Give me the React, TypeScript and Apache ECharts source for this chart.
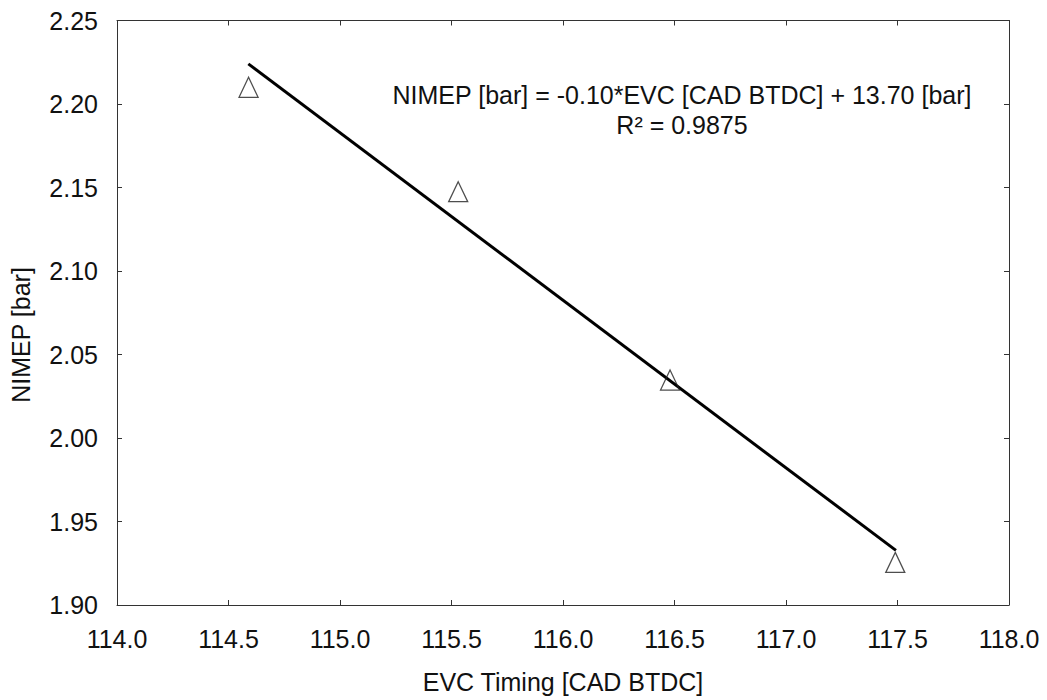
import React, { useEffect, useRef } from "react";
import * as echarts from "echarts";

// Measured NIMEP against exhaust valve closing timing
const evcTiming = [114.59, 115.53, 116.48, 117.49];
const nimep = [2.21, 2.1475, 2.0347, 1.9255];

// Linear trend line end points
const fitTiming = [114.589, 117.493];
const fitNimep = [2.224, 1.9327];

const equationText = "NIMEP [bar] = -0.10*EVC [CAD BTDC] + 13.70 [bar]";
const r2Text = "R² = 0.9875";

const xAxisTitle = "EVC Timing [CAD BTDC]";
const yAxisTitle = "NIMEP [bar]";

const FONT = '"Liberation Sans", Arial, Helvetica, sans-serif';

export default function App() {
  const ref = useRef<HTMLDivElement>(null);

  useEffect(() => {
    if (!ref.current) return;
    const chart = echarts.init(ref.current, null, { renderer: "svg" });

    const frameLine = { show: true, onZero: false, lineStyle: { color: "#333", width: 1 } };
    const tick = { show: true, inside: true, length: 5, lineStyle: { color: "#333", width: 1 } };

    const option = {
      animation: false,
      backgroundColor: "#ffffff",
      textStyle: { fontFamily: FONT },
      grid: { left: 117, right: 38, top: 20.5, bottom: 95, containLabel: false },
      xAxis: [
        {
          type: "value",
          position: "bottom",
          min: 114,
          max: 118,
          interval: 0.5,
          axisLine: frameLine,
          axisTick: tick,
          splitLine: { show: false },
          axisLabel: {
            formatter: (v: number) => v.toFixed(1),
            fontSize: 25,
            color: "#111",
            fontFamily: FONT,
            margin: 21,
          },
          name: xAxisTitle,
          nameLocation: "middle",
          nameGap: 64,
          nameTextStyle: { fontSize: 25, color: "#111", fontFamily: FONT },
        },
        {
          type: "value",
          position: "top",
          min: 114,
          max: 118,
          interval: 0.5,
          axisLine: frameLine,
          axisTick: tick,
          axisLabel: { show: false },
          splitLine: { show: false },
        },
      ],
      yAxis: [
        {
          type: "value",
          position: "left",
          min: 1.9,
          max: 2.25,
          interval: 0.05,
          axisLine: frameLine,
          axisTick: tick,
          splitLine: { show: false },
          axisLabel: {
            formatter: (v: number) => v.toFixed(2),
            fontSize: 25,
            color: "#111",
            fontFamily: FONT,
            margin: 19,
          },
        },
        {
          type: "value",
          position: "right",
          min: 1.9,
          max: 2.25,
          interval: 0.05,
          axisLine: frameLine,
          axisTick: tick,
          axisLabel: { show: false },
          splitLine: { show: false },
        },
      ],
      series: [
        {
          type: "line",
          xAxisIndex: 0,
          yAxisIndex: 0,
          data: fitTiming.map((x, i) => [x, fitNimep[i]]),
          showSymbol: false,
          symbol: "none",
          lineStyle: { color: "#000", width: 3 },
          z: 2,
        },
        {
          type: "scatter",
          xAxisIndex: 0,
          yAxisIndex: 0,
          data: evcTiming.map((x, i) => [x, nimep[i]]),
          symbol: "triangle",
          symbolSize: [19, 20],
          itemStyle: { color: "rgba(255,255,255,0)", borderColor: "#222", borderWidth: 1.3 },
          z: 3,
        },
      ],
      graphic: [
        {
          // vertical axis title
          type: "text",
          x: 21,
          y: 335,
          rotation: Math.PI / 2,
          style: {
            text: yAxisTitle,
            fontSize: 25,
            fontFamily: FONT,
            fill: "#111",
            align: "center",
            verticalAlign: "middle",
          },
        },
        {
          type: "text",
          x: 682,
          y: 95,
          style: {
            text: equationText,
            fontSize: 25,
            fontFamily: FONT,
            fill: "#111",
            align: "center",
            verticalAlign: "middle",
          },
        },
        {
          type: "text",
          x: 682,
          y: 125,
          style: {
            text: r2Text,
            fontSize: 25,
            fontFamily: FONT,
            fill: "#111",
            align: "center",
            verticalAlign: "middle",
          },
        },
      ],
    };

    chart.setOption(option as any);
    return () => chart.dispose();
  }, []);

  return (
    <div
      ref={ref}
      style={{ position: "fixed", left: 0, top: 0, width: 1047, height: 700, background: "#fff" }}
    />
  );
}
